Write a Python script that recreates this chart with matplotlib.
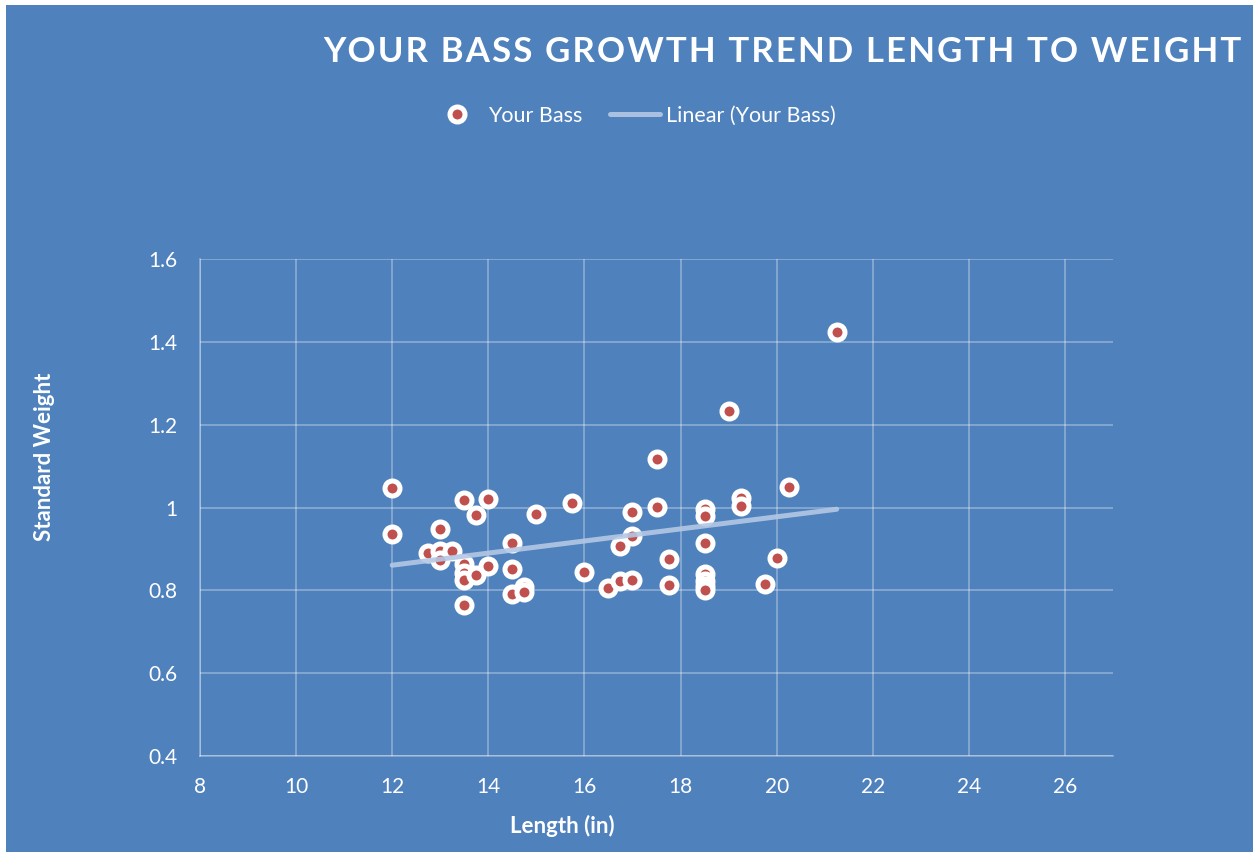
import numpy as np
import matplotlib
matplotlib.use("Agg")
import matplotlib.pyplot as plt

plt.rcParams['font.family'] = ['Lato', 'DejaVu Sans']

length_in = [12, 12, 12.75, 13, 13, 13, 13.25, 13.5, 13.5, 13.5, 13.5, 13.5, 13.75, 13.75, 14, 14,
             14.5, 14.5, 14.5, 14.75, 14.75, 15, 15.75, 16, 16.5, 16.75, 16.75, 17, 17, 17,
             17.5, 17.5, 17.75, 17.75, 18.5, 18.5, 18.5, 18.5, 18.5, 18.5, 18.5,
             19, 19.25, 19.25, 19.75, 20, 20.25, 21.25]
std_weight = [1.047, 0.936, 0.890, 0.948, 0.894, 0.873, 0.895, 1.018, 0.864, 0.842, 0.825, 0.765, 0.982, 0.837, 1.02, 0.858,
              0.914, 0.851, 0.791, 0.808, 0.797, 0.984, 1.01, 0.845, 0.806, 0.907, 0.822, 0.99, 0.931, 0.824,
              1.116, 1.002, 0.875, 0.812, 0.996, 0.98, 0.915, 0.839, 0.822, 0.81, 0.802,
              1.233, 1.022, 1.003, 0.815, 0.879, 1.049, 1.424]
x_ticks = [8, 10, 12, 14, 16, 18, 20, 22, 24, 26]
y_ticks = [0.4, 0.6, 0.8, 1.0, 1.2, 1.4, 1.6]
y_tick_labels = ["0.4", "0.6", "0.8", "1", "1.2", "1.4", "1.6"]

bg = "#4F81BD"
red = "#C0504D"
trend_col = "#B4C8E4"

W, H = 1253, 852
fig = plt.figure(figsize=(W / 100, H / 100), dpi=100, facecolor=bg)
# thin white margin at top and left
fig.patches.append(plt.Rectangle((0, 0), 6 / W, 1, transform=fig.transFigure,
                                 facecolor="white", edgecolor="none", zorder=-10))
fig.patches.append(plt.Rectangle((0, 1 - 5 / H), 1, 5 / H, transform=fig.transFigure,
                                 facecolor="white", edgecolor="none", zorder=-10))

ax = fig.add_axes([200 / W, 1 - 756 / H, (1113 - 200) / W, (756 - 259) / H])
ax.set_facecolor(bg)
ax.set_xlim(8, 27)
ax.set_ylim(0.4, 1.6)
ax.set_xticks(x_ticks)
ax.set_yticks(y_ticks)
ax.set_yticklabels(y_tick_labels)
ax.tick_params(colors="white", labelsize=15, length=0)
ax.tick_params(axis="x", pad=15)
ax.tick_params(axis="y", pad=16)
ax.grid(True, color="white", alpha=0.35, linewidth=1.2)
ax.set_axisbelow(True)
for s in ["top", "right"]:
    ax.spines[s].set_visible(False)
for s in ["left", "bottom"]:
    ax.spines[s].set_color((1, 1, 1, 0.35))
    ax.spines[s].set_linewidth(1.2)

x = np.array(length_in)
y = np.array(std_weight)
k, b = np.polyfit(x, y, 1)
xl = np.array([x.min(), x.max()])

ax.plot(x, y, linestyle="none", marker="o", markersize=10.8, markerfacecolor=red,
        markeredgecolor="white", markeredgewidth=3.6, label="Your Bass", zorder=3)
ax.plot(xl, k * xl + b, color=trend_col, linewidth=3.6, alpha=0.9, solid_capstyle="round",
        label="Linear (Your Bass)", zorder=4)

ax.set_xlabel("Length (in)", color="white", fontsize=16, fontweight="bold")
ax.set_ylabel("Standard Weight", color="white", fontsize=16, fontweight="bold")
ax.xaxis.set_label_coords((562 - 200) / 913, (756 - 815) / 497)
ax.yaxis.set_label_coords((55 - 200) / 913, (756 - 457) / 497)

title = "\u200a".join("YOUR BASS GROWTH TREND LENGTH TO WEIGHT")
fig.text(1242 / W, 1 - 52 / H, title, color="white",
         fontsize=25, fontweight="bold", ha="right", va="center")

leg = fig.legend(loc="center", bbox_to_anchor=(634 / W, 1 - 116 / H), ncol=2, frameon=False,
                 fontsize=15.5, labelcolor="white", handlelength=2.3, columnspacing=1.3, handletextpad=0.3)

fig.savefig("out.png", dpi=100, facecolor=bg)
